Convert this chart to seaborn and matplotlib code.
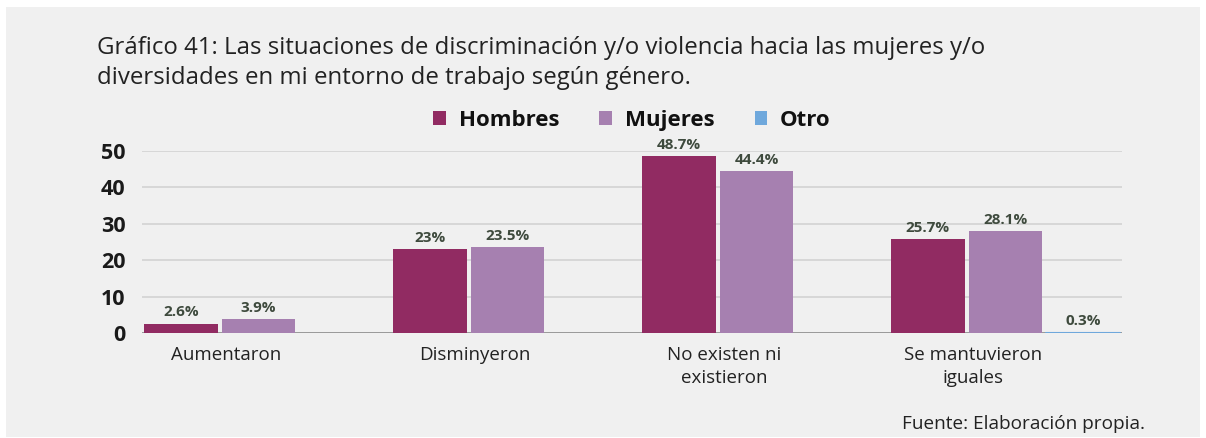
import pandas as pd
import numpy as np
import matplotlib
matplotlib.use("Agg")
import matplotlib.pyplot as plt
import seaborn as sns
from matplotlib.patches import Rectangle

# data
categories = ["Aumentaron", "Disminyeron", "No existen ni\nexistieron", "Se mantuvieron\niguales"]
hombres = [2.6, 23.0, 48.7, 25.7]
mujeres = [3.9, 23.5, 44.4, 28.1]
otro = [0.0, 0.0, 0.0, 0.3]
groups = ["Hombres", "Mujeres", "Otro"]
colors = ["#912b62", "#a680b0", "#6fa8dc"]
value_labels = {
    "Hombres": ["2.6%", "23%", "48.7%", "25.7%"],
    "Mujeres": ["3.9%", "23.5%", "44.4%", "28.1%"],
    "Otro": ["", "", "", "0.3%"],
}
yticks = [0, 10, 20, 30, 40, 50]

rows = []
for g, vals in zip(groups, [hombres, mujeres, otro]):
    for c, v in zip(categories, vals):
        rows.append({"categoria": c, "grupo": g, "valor": v})
df = pd.DataFrame(rows)

sns.set_theme(style="white")
plt.rcParams["font.family"] = ["Open Sans", "DejaVu Sans"]

fig = plt.figure(figsize=(12.06, 4.38), dpi=100)
fig.patch.set_facecolor("white")
# gray card background
fig.patches.append(Rectangle((6 / 1206, 1 / 438), 1194 / 1206, 430 / 438,
                             transform=fig.transFigure, facecolor="#f0f0f0",
                             edgecolor="none", zorder=-10))

ax = fig.add_axes([142 / 1206, 105 / 438, 980 / 1206, 182 / 438])
ax.set_facecolor("none")

sns.barplot(data=df, x="categoria", y="valor", hue="grupo", order=categories,
            hue_order=groups, palette=colors, width=0.936, gap=0.05,
            linewidth=0, saturation=1, ax=ax, legend=True, zorder=3)

ax.set_ylim(0, 50)
ax.set_xlim(-0.468, 3.468)
ax.set_yticks(yticks)
ax.set_yticklabels([str(t) for t in yticks], fontsize=15.5, fontweight="bold", color="#1a1a1a")
ax.tick_params(axis="y", length=0, pad=12)
ax.set_xticks(np.arange(len(categories)) - 0.13)
ax.set_xticklabels(categories, fontsize=13.5, color="#222222", linespacing=1.4)
ax.tick_params(axis="x", length=0, pad=9)
ax.set_xlabel("")
ax.set_ylabel("")
for t in yticks[1:]:
    ax.axhline(t, color="#d3d3d3", linewidth=1.2, zorder=1)
ax.axhline(0, color="#8a8a8a", linewidth=1.2, zorder=2)
for s in ax.spines.values():
    s.set_visible(False)

for cont, g in zip(ax.containers, groups):
    labels = value_labels[g]
    ax.bar_label(cont, labels=labels, padding=3, fontsize=11, fontweight="bold",
                 color="#3e4a3d", clip_on=False)
    if g == "Otro":
        # blue baseline under the tiny Otro bar
        for bar in cont:
            if bar.get_height() > 0:
                ax.plot([bar.get_x(), bar.get_x() + bar.get_width()], [0, 0],
                        color=colors[2], linewidth=1.5, zorder=4)

leg = ax.legend(loc="lower center", bbox_to_anchor=(0.5, 1.0), ncol=3, frameon=False,
                fontsize=16, handlelength=0.55, handleheight=0.55, handletextpad=0.6,
                columnspacing=1.8)
for txt in leg.get_texts():
    txt.set_fontweight("bold")
    txt.set_color("#111111")

fig.text(97 / 1206, 1 - 63 / 438,
         "Gráfico 41: Las situaciones de discriminación y/o violencia hacia las mujeres y/o\n"
         "diversidades en mi entorno de trabajo según género.",
         fontsize=17.3, color="#222222", va="center", ha="left", linespacing=1.3)
fig.text(1145 / 1206, 1 - 424 / 438, "Fuente: Elaboración propia.",
         fontsize=13.7, color="#222222", ha="right", va="center")

fig.savefig("out.png", dpi=100, facecolor=fig.get_facecolor())
